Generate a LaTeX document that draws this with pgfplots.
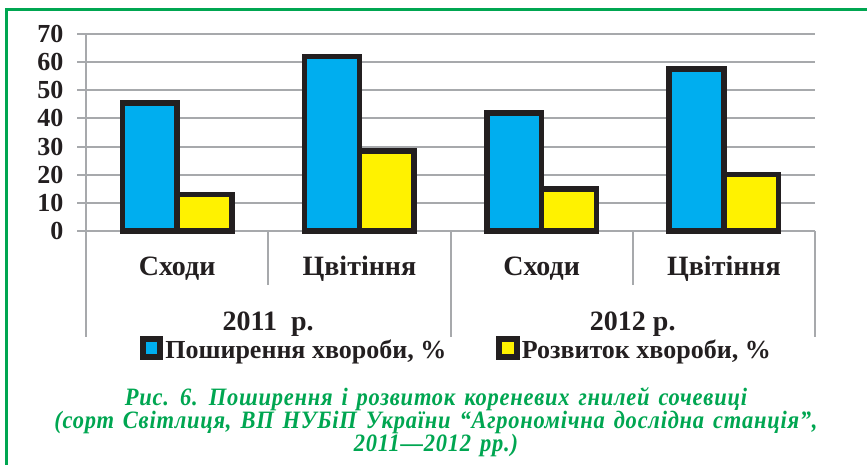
\documentclass[border=0pt]{standalone}
\usepackage{fontspec}
\setmainfont{Liberation Serif}
\newfontfamily\capfont[FakeStretch=0.9, LetterSpace=3, WordSpace=1.4]{Liberation Serif}
\usepackage{pgfplots}
\pgfplotsset{compat=1.18}
\definecolor{gridc}{HTML}{A7A9AC}
\definecolor{cblue}{HTML}{00AEEF}
\definecolor{cyel}{HTML}{FFF200}
\definecolor{dark}{HTML}{231F20}
\definecolor{fgreen}{HTML}{00A651}
\begin{document}
\begin{tikzpicture}[x=1pt,y=1pt]
\useasboundingbox (0,0) rectangle (867,465);
\draw[fgreen, line width=3pt] (6,0) -- (6,455) -- (867,455);
\begin{axis}[
  at={(86pt,234pt)}, anchor=south west, scale only axis,
  width=729pt, height=197pt,
  xmin=-0.5, xmax=3.5, ymin=0, ymax=70,
  ytick={0,10,...,70}, xtick=\empty,
  axis line style={draw=none},
  ymajorgrids, grid style={gridc, line width=2pt},
  major tick style={gridc, line width=2pt}, tick align=outside, major tick length=9pt,
  ytick pos=left,
  yticklabel style={font=\fontsize{26}{26}\selectfont\bfseries, text=dark, xshift=-10pt},
  /pgf/number format/assume math mode=true,
  ybar=0pt, bar width=0.3,
  legend style={at={(0.508,-0.60)}, anchor=center, draw=none, fill=none,
    font=\fontsize{26}{26}\selectfont\bfseries, text=dark, legend columns=2,
    /tikz/every even column/.append style={column sep=48pt}},
  legend cell align=left,
  clip=false,
]
\addplot[fill=cblue, draw=dark, line width=5.5pt,
  legend image code/.code={\fill[dark] (0pt,-7pt) rectangle (18pt,11pt); \fill[cblue] (6pt,-1pt) rectangle (12pt,5pt);}]
  coordinates {(0,45.5) (1,62) (2,42) (3,57.5)};
\addlegendentry{Поширення хвороби, \%}
\addplot[fill=cyel, draw=dark, line width=5.5pt,
  legend image code/.code={\fill[dark] (0pt,-7pt) rectangle (18pt,11pt); \fill[cyel] (6pt,-1pt) rectangle (12pt,5pt);}]
  coordinates {(0,13) (1,28.5) (2,15) (3,20)};
\addlegendentry{Розвиток хвороби, \%}
\draw[gridc, line width=2pt] (axis cs:-0.5,70) -- (axis cs:-0.5,0) -- ++(0pt,-106pt);
\draw[gridc, line width=2pt] (axis cs:0.5,0) -- ++(0pt,-54pt);
\draw[gridc, line width=2pt] (axis cs:1.5,0) -- ++(0pt,-106pt);
\draw[gridc, line width=2pt] (axis cs:2.5,0) -- ++(0pt,-54pt);
\draw[gridc, line width=2pt] (axis cs:3.5,0) -- ++(0pt,-106pt);
\path[font=\fontsize{28}{28}\selectfont\bfseries, text=dark]
  (axis cs:0,0) ++(0pt,-45pt) node[anchor=base] {Сходи}
  (axis cs:1,0) ++(0pt,-45pt) node[anchor=base] {Цвітіння}
  (axis cs:2,0) ++(0pt,-45pt) node[anchor=base] {Сходи}
  (axis cs:3,0) ++(0pt,-45pt) node[anchor=base] {Цвітіння}
  (axis cs:0.5,0) ++(0pt,-100pt) node[anchor=base] {2011\ \ р.}
  (axis cs:2.5,0) ++(0pt,-100pt) node[anchor=base] {2012 р.};
\end{axis}
\begin{scope}[every node/.style={anchor=base, text=fgreen, inner sep=0pt, text height=16pt, text depth=5pt, font=\capfont\bfseries\itshape\fontsize{25}{25}\selectfont}]
\node at (436,59) {Рис. 6. Поширення і розвиток кореневих гнилей сочевиці};
\node at (436,36) {(сорт Світлиця, ВП НУБіП України “Агрономічна дослідна станція”,};
\node at (436,13) {2011—2012 рр.)};
\end{scope}
\end{tikzpicture}
\end{document}
